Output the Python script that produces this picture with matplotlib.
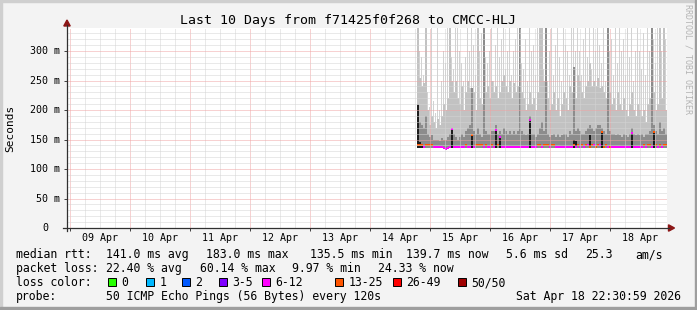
import matplotlib.pyplot as plt
import matplotlib.transforms as mtransforms
import numpy as np
from matplotlib.lines import Line2D
from matplotlib.patches import Polygon, Rectangle

W, H = 697, 310
MONO = "DejaVu Sans Mono"

# time axis: hours after 09 Apr 00:00, graph covers the last 10 days
t_end = 9 * 24 + 22.8
t_start = t_end - 240
data_start = 138.8   # first smoke column (14 Apr evening)
col_hours = 0.8      # one smoke column = 48 minutes

day_labels = ["09 Apr", "10 Apr", "11 Apr", "12 Apr", "13 Apr",
              "14 Apr", "15 Apr", "16 Apr", "17 Apr", "18 Apr"]
y_ticks = [0, 50, 100, 150, 200, 250, 300]
y_labels = ["0", "50 m", "100 m", "150 m", "200 m", "250 m", "300 m"]

# smoke (ms) per column: light outer band, middle band, inner band, darkest core
smoke_floor = 136.0
smoke_hi = [340, 300, 290, 260, 340, 230, 205, 340, 215, 195,
            340, 200, 250, 300, 280, 340, 340, 290, 270, 340,
            340, 300, 280, 250, 290, 340, 300, 340, 310, 260,
            340, 300, 330, 340, 290, 280, 300, 340, 250, 310,
            340, 290, 320, 340, 270, 300, 340, 260, 300, 320,
            340, 340, 280, 270, 320, 250, 340, 300, 310, 260,
            340, 340, 300, 270, 340, 250, 300, 340, 260, 310,
            340, 290, 250, 340, 310, 300, 260, 340, 340, 300,
            340, 300, 260, 320, 340, 290, 340, 270, 340, 300,
            340, 310, 280, 340, 250, 340, 300, 320, 260, 340,
            280, 340, 300, 320, 260, 340, 290, 340, 250, 300,
            340, 300, 270, 330, 260, 340, 300, 340, 320, 280,
            340, 310, 300, 340, 320]
smoke_mid = [340, 255, 240, 245, 340, 200, 175, 190, 180, 170,
             185, 175, 190, 210, 200, 220, 340, 250, 230, 250,
             220, 210, 240, 200, 230, 250, 237, 237, 230, 200,
             340, 220, 210, 340, 230, 240, 220, 250, 230, 240,
             220, 230, 250, 260, 240, 230, 250, 220, 245, 230,
             240, 340, 230, 220, 200, 210, 230, 210, 220, 200,
             230, 340, 340, 250, 340, 220, 200, 210, 230, 200,
             220, 190, 210, 230, 220, 200, 240, 230, 273, 220,
             260, 250, 230, 220, 240, 250, 280, 240, 250, 240,
             254, 237, 240, 230, 220, 340, 230, 210, 220, 200,
             230, 210, 200, 220, 200, 190, 210, 230, 200, 190,
             210, 200, 190, 200, 180, 210, 220, 340, 230, 200,
             210, 340, 220, 340, 200]
smoke_lo = [210, 180, 175, 170, 190, 160, 155, 158, 150, 150,
            150, 148, 152, 150, 150, 155, 160, 170, 160, 155,
            150, 155, 160, 155, 165, 170, 175, 237, 165, 160,
            170, 160, 155, 340, 165, 160, 160, 165, 165, 175,
            160, 165, 160, 170, 165, 160, 165, 160, 165, 160,
            165, 340, 165, 160, 158, 160, 190, 160, 160, 155,
            160, 170, 180, 165, 340, 160, 155, 158, 160, 155,
            160, 155, 158, 160, 160, 155, 165, 160, 273, 165,
            170, 165, 160, 160, 165, 170, 175, 170, 165, 170,
            175, 175, 170, 165, 160, 340, 165, 160, 160, 158,
            160, 158, 155, 160, 158, 155, 160, 170, 160, 158,
            160, 158, 160, 155, 160, 160, 165, 340, 175, 165,
            160, 180, 165, 170, 160]
smoke_core = [208, 145, 140, 0, 0, 0, 0, 0, 0, 0,
              0, 0, 0, 0, 0, 0, 0, 168, 0, 0,
              0, 0, 0, 0, 0, 0, 0, 158, 0, 0,
              0, 0, 0, 0, 0, 0, 0, 0, 0, 166,
              0, 154, 0, 0, 0, 0, 0, 0, 0, 0,
              0, 0, 0, 0, 0, 0, 183, 0, 0, 0,
              0, 0, 0, 0, 0, 0, 0, 0, 0, 0,
              0, 0, 0, 0, 0, 0, 0, 0, 150, 148,
              0, 0, 0, 0, 0, 0, 158, 0, 0, 0,
              0, 0, 163, 0, 0, 0, 0, 0, 0, 0,
              0, 0, 0, 0, 0, 0, 0, 161, 0, 0,
              0, 0, 0, 0, 0, 0, 0, 0, 163, 0,
              0, 0, 0, 0, 0]
# lost pings (of 50) per column, picks the median colour
lost = [15, 15, 15, 9, 15, 15, 15, 15,
        9, 9, 9, 9, 9, 9, 9, 9, 9, 9, 9, 9, 9, 9, 9,
        9, 15, 9, 9,
        15, 9, 15, 15, 15, 15, 9, 15,
        9, 9, 15, 9, 9, 15, 9,
        9, 9, 9, 9, 9, 9, 9, 9, 9, 9, 9, 9, 9, 9, 9, 9, 9, 9,
        15, 15, 9, 15, 15, 15, 9, 15, 15,
        9, 9, 9, 9, 9, 9, 9, 9, 9,
        15, 9, 15, 9,
        15, 9, 15, 9, 15, 15, 9, 15, 15, 9,
        15, 15, 15, 9, 15,
        9, 9, 9, 9, 9, 9, 9, 9, 9, 9, 9, 9, 9, 9, 9,
        9, 15, 9, 15, 15, 9, 15, 15, 9, 15, 9, 15, 15]
median = [141, 141, 141, 138, 141, 141, 141, 141, 138, 138,
          138, 138, 138, 135, 134, 136, 138, 168, 138, 138,
          138, 138, 138, 138, 141, 138, 138, 158, 138, 141,
          141, 141, 141, 138, 141, 138, 138, 141, 138, 166,
          141, 154, 138, 138, 138, 138, 138, 138, 138, 138,
          138, 138, 138, 138, 138, 138, 183, 138, 138, 138,
          141, 141, 138, 141, 141, 141, 138, 141, 141, 138,
          138, 138, 138, 138, 138, 138, 138, 138, 141, 138,
          141, 138, 141, 138, 141, 141, 138, 141, 141, 138,
          141, 141, 163, 138, 141, 138, 138, 138, 138, 138,
          138, 138, 138, 138, 138, 138, 138, 161, 138, 138,
          138, 138, 138, 141, 138, 141, 141, 138, 163, 141,
          138, 141, 138, 141, 141]

loss_bins = [0, 1, 2, 3, 6, 13, 26, 50]
loss_names = ["0", "1", "2", "3-5", "6-12", "13-25", "26-49", "50/50"]
loss_colors = ["#26ff00", "#00b8ff", "#0059ff", "#7e00ff",
               "#ff00ff", "#ff5500", "#ff0000", "#a00000"]

title = "Last 10 Days from f71425f0f268 to CMCC-HLJ"
rtt_stats = ["141.0 ms avg", "183.0 ms max", "135.5 ms min", "139.7 ms now",
             "5.6 ms sd", "25.3", "am/s"]
loss_stats = ["22.40 % avg", "60.14 % max", "9.97 % min", "24.33 % now"]
probe_text = "50 ICMP Echo Pings (56 Bytes) every 120s"
stamp = "Sat Apr 18 22:30:59 2026"


def fx(px):
    return px / W


def fy(py):
    return 1 - py / H


def loss_color(n):
    c = loss_colors[0]
    for b, col in zip(loss_bins, loss_colors):
        if n >= b:
            c = col
    return c


fig = plt.figure(figsize=(W / 100, H / 100), dpi=100, facecolor="#f3f3f3")
ax = fig.add_axes([fx(67), fy(228), 600 / W, 200 / H])
ax.set_facecolor("white")

xs = data_start + col_hours * np.arange(len(median))
floor = np.full(len(xs), smoke_floor)
# outer band drawn as thin streaks, inner bands fill the column
ax.bar(xs, np.array(smoke_hi) - floor, bottom=floor, width=col_hours * 0.55,
       align="edge", color="#d2d2d2", linewidth=0, zorder=1)
for layer, shade in [(smoke_mid, "#c2c2c2"), (smoke_lo, "#8c8c8c")]:
    ax.bar(xs, np.array(layer) - floor, bottom=floor, width=col_hours,
           align="edge", color=shade, linewidth=0, zorder=1)
core = np.array(smoke_core, dtype=float)
has_core = core > 0
ax.bar(xs[has_core], core[has_core] - smoke_floor, bottom=smoke_floor,
       width=col_hours, align="edge", color="#1e1e1e", linewidth=0, zorder=1.2)
med = np.array(median, dtype=float)
ax.bar(xs, np.full(len(xs), 3.4), bottom=med - 1.7, width=col_hours,
       align="edge", color=[loss_color(n) for n in lost], linewidth=0, zorder=1.5)

# grid
ax.set_xticks(np.arange(0, t_end, 24))
ax.set_xticks(np.arange(6, t_end, 6), minor=True)
ax.set_yticks(y_ticks)
ax.set_yticks(np.arange(10, 340, 10), minor=True)
ax.set_xlim(t_start, t_end)
ax.set_ylim(0, 339)
ax.set_axisbelow(False)
ax.grid(which="minor", color="#d4d4d4", linestyle=(0, (1, 1)), linewidth=0.72)
ax.grid(which="major", color="#f0a4a4", linestyle=(0, (1, 1)), linewidth=0.72)
ax.tick_params(which="both", labelleft=False, labelbottom=False,
               direction="out", color="#404040", width=0.7)
ax.tick_params(which="major", length=2.2)
ax.tick_params(which="minor", length=0)
for s in ax.spines.values():
    s.set_visible(False)

# axes lines and arrows
fig.add_artist(Line2D([fx(67), fx(67)], [fy(231), fy(25)], color="#303030", lw=0.9))
fig.add_artist(Line2D([fx(63), fx(669)], [fy(228), fy(228)], color="#303030", lw=0.9))
fig.add_artist(Polygon([(fx(67), fy(20)), (fx(63.8), fy(26)), (fx(70.2), fy(26))],
                       closed=True, color="#8c1616", transform=fig.transFigure))
fig.add_artist(Polygon([(fx(674.5), fy(228)), (fx(668.5), fy(224.8)), (fx(668.5), fy(231.2))],
                       closed=True, color="#8c1616", transform=fig.transFigure))

# tick labels
ytr = mtransforms.blended_transform_factory(fig.transFigure, ax.transData)
for v, lab in zip(y_ticks, y_labels):
    x_right = 60 if lab.endswith("m") else 48
    fig.text(fx(x_right), v, lab, transform=ytr, ha="right", va="center",
             family=MONO, fontsize=7.2)
xtr = mtransforms.blended_transform_factory(ax.transData, fig.transFigure)
for i, lab in enumerate(day_labels):
    fig.text(12 + 24 * i, fy(241), lab, transform=xtr, ha="center",
             va="baseline", family=MONO, fontsize=7.2)

fig.text(fx(348.5), fy(24), title, ha="center", va="baseline", family=MONO,
         fontsize=9.5)
fig.text(fx(10), fy(128), "Seconds", rotation=90, ha="center", va="center",
         family=MONO, fontsize=8)
fig.text(fx(688), fy(59), "RRDTOOL / TOBI OETIKER", rotation=-90, ha="center",
         va="center", family=MONO, fontsize=6, color="#b4b4b4")

# legend rows
LEG = 8.3
fig.text(fx(15.5), fy(258), "median rtt:", family=MONO, fontsize=LEG, va="baseline")
for px, s in zip([105.5, 205.5, 309.5, 405.5, 505.5, 585, 635], rtt_stats):
    fig.text(fx(px), fy(258), s, family=MONO, fontsize=LEG, va="baseline")
fig.text(fx(15.5), fy(272), "packet loss:", family=MONO, fontsize=LEG, va="baseline")
for px, s in zip([105.5, 199.5, 292, 377.5], loss_stats):
    fig.text(fx(px), fy(272), s, family=MONO, fontsize=LEG, va="baseline")
fig.text(fx(15.5), fy(286), "loss color:", family=MONO, fontsize=LEG, va="baseline")
box_x = [108, 146, 182, 219, 262, 335, 393, 458]
for bx, name, col in zip(box_x, loss_names, loss_colors):
    fig.add_artist(Rectangle((fx(bx), fy(286)), 8 / W, 8 / H, facecolor=col,
                             edgecolor="black", linewidth=0.7,
                             transform=fig.transFigure))
    fig.text(fx(bx + 13.5), fy(286), name, family=MONO, fontsize=LEG, va="baseline")
fig.text(fx(15.5), fy(300), "probe:", family=MONO, fontsize=LEG, va="baseline")
fig.text(fx(105.5), fy(300), probe_text, family=MONO, fontsize=LEG, va="baseline")
fig.text(fx(680.5), fy(300), stamp, family=MONO, fontsize=LEG, va="baseline", ha="right")

# image frame
fig.add_artist(Rectangle((0, fy(2)), 1, 2 / H, color="#cfcfcf", transform=fig.transFigure))
fig.add_artist(Rectangle((0, 0), 2 / W, 1, color="#cfcfcf", transform=fig.transFigure))
fig.add_artist(Rectangle((0, 0), 1, 3 / H, color="#9e9e9e", transform=fig.transFigure))
fig.add_artist(Rectangle((fx(695), 0), 2 / W, 1, color="#9e9e9e", transform=fig.transFigure))

fig.savefig("out.png", dpi=100, facecolor=fig.get_facecolor())
